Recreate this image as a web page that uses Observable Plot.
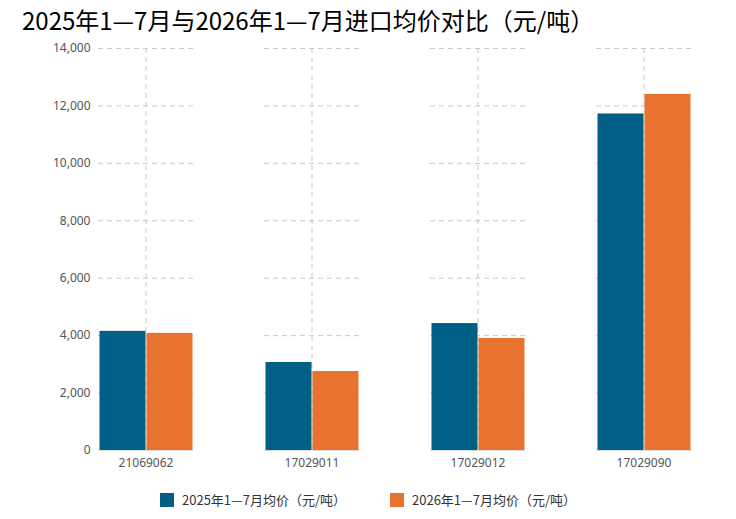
<!DOCTYPE html>
<html><head><meta charset="utf-8">
<script src="https://cdn.jsdelivr.net/npm/d3@7"></script>
<script src="https://cdn.jsdelivr.net/npm/@observablehq/plot@0.6"></script>
<style>
body{margin:0;background:#fff;font-family:"Noto Sans CJK SC","Noto Sans",sans-serif;}
#title{height:38px;font-size:24px;padding-left:22px;line-height:40px;color:#000;}
#legend{display:flex;justify-content:center;gap:44px;font-size:13px;color:#333;margin-top:10px;}
#legend span.sw{display:inline-block;width:14px;height:14px;margin-right:8px;vertical-align:-2px;}
</style></head><body>
<div id="title">2025年1—7月与2026年1—7月进口均价对比（元/吨）</div>
<div id="chart"></div>
<div id="legend"></div>
<script>
const categories = ["21069062","17029011","17029012","17029090"];
const seriesNames = ["2025年1—7月均价（元/吨）","2026年1—7月均价（元/吨）"];
const values2025 = [4150, 3065, 4420, 11720];
const values2026 = [4080, 2750, 3900, 12400];
const colors = ["#005f85","#e8722f"];
const data = [];
categories.forEach((c,i)=>{data.push({cat:c,s:seriesNames[0],v:values2025[i]});data.push({cat:c,s:seriesNames[1],v:values2026[i]});});
const ticks = d3.range(0,14001,2000);
const chart = Plot.plot({
  width:736, height:442, marginTop:10, marginBottom:30, marginLeft:62, marginRight:10,
  style:{fontFamily:"Noto Sans, sans-serif", fontSize:"12px", color:"#555"},
  fx:{domain:categories, paddingInner:0.43, paddingOuter:0.215, label:null, axis:null},
  x:{domain:seriesNames, padding:0, axis:null},
  y:{domain:[0,14000], ticks, tickFormat:d3.format(","), label:null, axis:null},
  color:{domain:seriesNames, range:colors},
  marks:[
    Plot.gridY({stroke:"#c8c8c8", strokeOpacity:1, strokeDasharray:"5,4", ticks}),
    Plot.gridFx({stroke:"#c8c8c8", strokeOpacity:1, strokeDasharray:"5,4"}),
    Plot.axisY({ticks, tickFormat:d3.format(","), tickSize:0, tickPadding:8, label:null}),
    Plot.axisFx({anchor:"bottom", tickSize:0, tickPadding:8, label:null}),
    Plot.barY(data,{fx:"cat", x:"s", y:"v", fill:"s", insetLeft:0.5, insetRight:0.5}),
    Plot.ruleY([0],{stroke:"#ddd"})
  ]
});
document.getElementById("chart").append(chart);
const lg=document.getElementById("legend");
seriesNames.forEach((s,i)=>{const d=document.createElement("div");d.innerHTML=`<span class="sw" style="background:${colors[i]}"></span>${s}`;lg.append(d);});
</script></body></html>
